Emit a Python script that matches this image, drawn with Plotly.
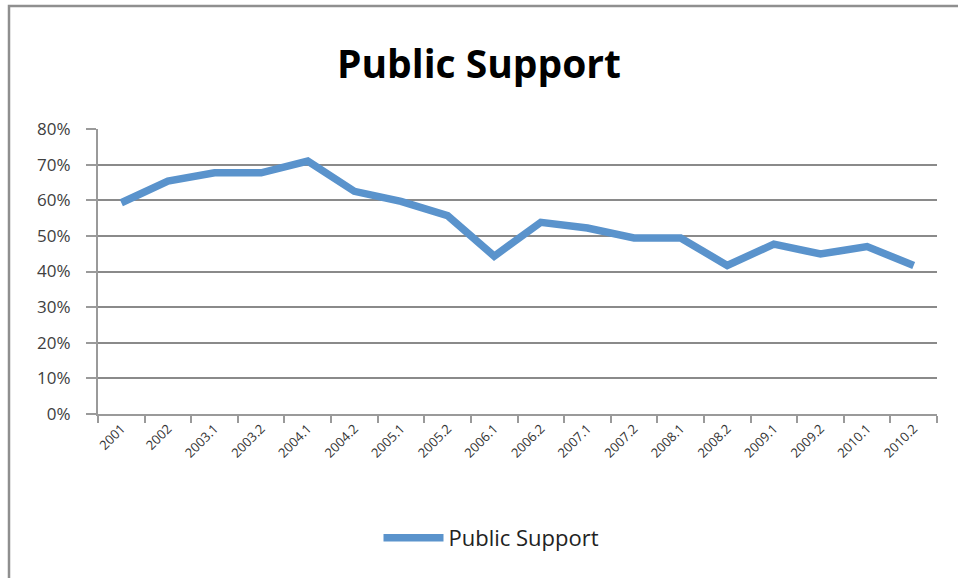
import plotly.graph_objects as go

categories = ["2001", "2002", "2003.1", "2003.2", "2004.1", "2004.2", "2005.1", "2005.2",
              "2006.1", "2006.2", "2007.1", "2007.2", "2008.1", "2008.2", "2009.1", "2009.2",
              "2010.1", "2010.2"]
support = [0.593, 0.654, 0.677, 0.677, 0.71, 0.625, 0.597, 0.557,
           0.443, 0.538, 0.522, 0.494, 0.494, 0.417, 0.477, 0.449, 0.47, 0.417]
y_ticks = [0, 0.1, 0.2, 0.3, 0.4, 0.5, 0.6, 0.7, 0.8]
y_labels = ["0%", "10%", "20%", "30%", "40%", "50%", "60%", "70%", "80%"]

fig = go.Figure()
fig.add_trace(go.Scatter(
    x=categories, y=support, mode="lines", name="Public Support",
    line=dict(color="#5A93CC", width=7.5),
))

L, R, T, B = 98, 937, 129, 414
W, H = 958, 578

fig.update_layout(
    width=W, height=H,
    margin=dict(l=L, r=W - R, t=T, b=H - B),
    paper_bgcolor="white", plot_bgcolor="white",
    title=dict(text="<b>Public Support</b>", x=0.5, xanchor="center",
               y=1 - 64 / H, yanchor="middle",
               font=dict(family="Open Sans", size=39, color="#000000")),
    font=dict(family="Open Sans", color="#444444"),
    showlegend=True,
    legend=dict(orientation="h", x=(491.5 - L) / (R - L), xanchor="center",
                y=-(538 - B) / (B - T),
                yanchor="middle", font=dict(size=22, color="#222222"),
                itemwidth=60),
    xaxis=dict(
        type="category", tickangle=-45, tickfont=dict(size=13, color="#333333"),
        showgrid=False, showline=True, linecolor="#9a9a9a", linewidth=2,
        ticks="outside", tickson="boundaries", ticklen=7, tickcolor="#9a9a9a",
        tickwidth=2, range=[-0.5, len(categories) - 0.5],
    ),
    yaxis=dict(
        range=[0, 0.8], tickvals=y_ticks, ticktext=y_labels,
        tickfont=dict(size=17, color="#404040"),
        showgrid=True, gridcolor="#8a8a8a", gridwidth=2,
        showline=True, linecolor="#9a9a9a", linewidth=2,
        ticks="outside", ticklen=10, tickcolor="#9a9a9a", tickwidth=2,
        ticklabelstandoff=12,
        zeroline=False,
    ),
    shapes=[dict(type="rect", xref="paper", yref="paper",
                 x0=(9 - L) / (R - L), x1=2, y0=-2, y1=1 + (T - 6) / (B - T),
                 line=dict(color="#8f8f8f", width=2.5), layer="below")],
)

fig.write_html("out.html")
